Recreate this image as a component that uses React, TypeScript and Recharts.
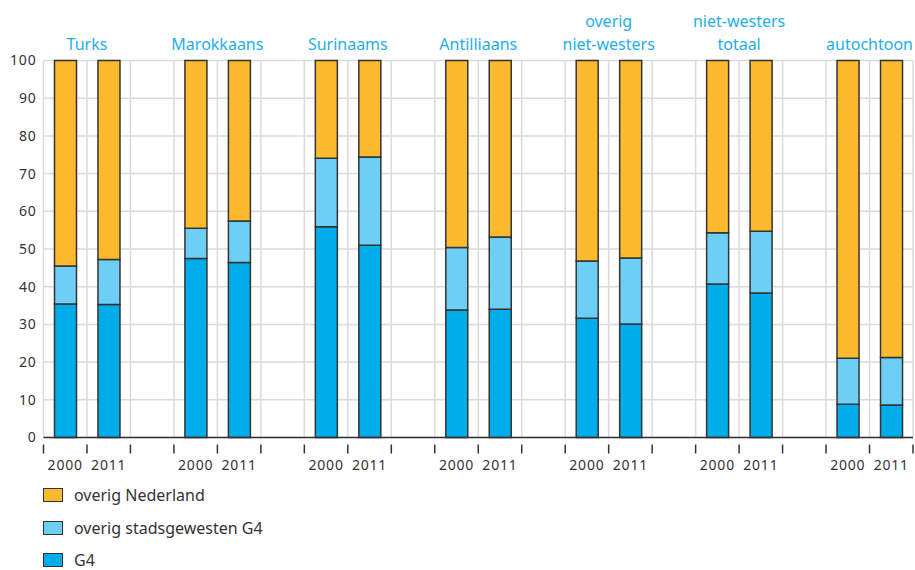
import { BarChart, Bar, XAxis, YAxis, CartesianGrid, Legend } from 'recharts';

// groups and years along the x axis
const groups = ['Turks', 'Marokkaans', 'Surinaams', 'Antilliaans', 'overig\nniet-westers', 'niet-westers\ntotaal', 'autochtoon'];
const years = ['2000', '2011'];

// shares (%) per group, in order 2000, 2011
const g4 = [35.4, 35.3, 47.5, 46.4, 55.9, 51.0, 33.8, 34.0, 31.6, 30.1, 40.7, 38.3, 8.8, 8.6];
const overigStadsgewesten = [10.1, 11.9, 8.0, 11.0, 18.2, 23.4, 16.6, 19.2, 15.2, 17.5, 13.6, 16.4, 12.2, 12.6];
const overigNederland = [54.5, 52.8, 44.5, 42.6, 25.9, 25.6, 49.6, 46.8, 53.2, 52.4, 45.7, 45.3, 79.0, 78.8];

const yTicks = [0, 10, 20, 30, 40, 50, 60, 70, 80, 90, 100];

const COLORS = {
  g4: '#00adeb',
  stad: '#6dcff6',
  nl: '#fdba2f',
  stroke: '#333333',
  text: '#333333',
  label: '#1faee6',
  grid: '#dadada',
};

const FONT = '"Noto Sans", "Open Sans", sans-serif';

// build 20 slots: 2000, 2011, gap per group (no gap after the last)
const rows: any[] = [];
groups.forEach((group, gi) => {
  years.forEach((year, yi) => {
    const i = gi * 2 + yi;
    rows.push({
      key: `${gi}-${year}`,
      year,
      group: yi === 0 ? group : '',
      g4: g4[i],
      stad: overigStadsgewesten[i],
      nl: overigNederland[i],
    });
  });
  if (gi < groups.length - 1) {
    rows.push({ key: `${gi}-gap`, year: '', group: '' });
  }
});

const WIDTH = 915;
const HEIGHT = 570;
const Y_AXIS_W = 43.5;
const RIGHT = 2;
const BAND = (WIDTH - Y_AXIS_W - RIGHT) / rows.length;

const BottomTick = ({ x, y, index }: any) => {
  const row = rows[index];
  const left = x - BAND / 2;
  return (
    <g>
      <line x1={left} x2={left} y1={y - 1} y2={y + 8} stroke={COLORS.stroke} strokeWidth={1.5} />
      {index === rows.length - 1 && (
        <line x1={x + BAND / 2} x2={x + BAND / 2} y1={y - 1} y2={y + 8} stroke={COLORS.stroke} strokeWidth={1.5} />
      )}
      {row && row.year && (
        <text x={x} y={y + 24} textAnchor="middle" fill={COLORS.text} fontSize={14} fontFamily={FONT} letterSpacing={0.8}>
          {row.year}
        </text>
      )}
    </g>
  );
};

const TopTick = ({ x, index }: any) => {
  const row = rows[index];
  if (!row || !row.group) return null;
  const lines = row.group.split('\n');
  const cx = x + BAND / 2;
  return (
    <text textAnchor="middle" fill={COLORS.label} fontSize={16} fontFamily={FONT}>
      {lines.map((line: string, i: number) => (
        <tspan key={i} x={cx} y={50 - (lines.length - 1 - i) * 23}>
          {line}
        </tspan>
      ))}
    </text>
  );
};

const LegendContent = () => {
  const items = [
    { name: 'overig Nederland', color: COLORS.nl },
    { name: 'overig stadsgewesten G4', color: COLORS.stad },
    { name: 'G4', color: COLORS.g4 },
  ];
  return (
    <div style={{ position: 'relative', height: 86 }}>
      {items.map((item, i) => (
        <div key={item.name} style={{ position: 'absolute', left: 43, top: 7 + i * 32.5, display: 'flex', alignItems: 'center' }}>
          <div style={{ width: 18, height: 12, background: item.color, border: `1.5px solid ${COLORS.stroke}` }} />
          <span style={{ marginLeft: 11, fontFamily: FONT, fontSize: 16, color: COLORS.text, lineHeight: '16px' }}>{item.name}</span>
        </div>
      ))}
    </div>
  );
};

export default function App() {
  return (
    <div style={{ position: 'absolute', left: 0, top: 0, background: '#fff' }}>
      <BarChart
        width={WIDTH}
        height={HEIGHT}
        data={rows}
        margin={{ top: 0, right: RIGHT, bottom: 0, left: 0 }}
        barCategoryGap={0}
      >
        <CartesianGrid
          stroke={COLORS.grid}
          strokeWidth={1.5}
          verticalCoordinatesGenerator={({ offset }: any) =>
            Array.from({ length: rows.length + 1 }, (_, i) => offset.left + (i * offset.width) / rows.length)
          }
        />
        <XAxis
          dataKey="key"
          height={30}
          interval={0}
          tickLine={false}
          axisLine={{ stroke: COLORS.stroke, strokeWidth: 1.5 }}
          tick={<BottomTick />}
        />
        <XAxis
          xAxisId="top"
          orientation="top"
          dataKey="key"
          height={60.5}
          interval={0}
          tickLine={false}
          axisLine={false}
          tick={<TopTick />}
        />
        <YAxis
          width={Y_AXIS_W}
          domain={[0, 100]}
          ticks={yTicks}
          interval={0}
          tickLine={false}
          axisLine={false}
          tickSize={0}
          tickMargin={7}
          tick={{ fill: COLORS.text, fontSize: 14, fontFamily: FONT, letterSpacing: 0.8 }}
        />
        <Legend
          verticalAlign="bottom"
          height={102.5}
          content={<LegendContent />}
          wrapperStyle={{ left: 0, top: 480, bottom: 'auto', width: 400 }}
        />
        <Bar dataKey="g4" name="G4" stackId="a" fill={COLORS.g4} stroke={COLORS.stroke} strokeWidth={1.5} barSize={22} isAnimationActive={false} />
        <Bar dataKey="stad" name="overig stadsgewesten G4" stackId="a" fill={COLORS.stad} stroke={COLORS.stroke} strokeWidth={1.5} barSize={22} isAnimationActive={false} />
        <Bar dataKey="nl" name="overig Nederland" stackId="a" fill={COLORS.nl} stroke={COLORS.stroke} strokeWidth={1.5} barSize={22} isAnimationActive={false} />
      </BarChart>
    </div>
  );
}
